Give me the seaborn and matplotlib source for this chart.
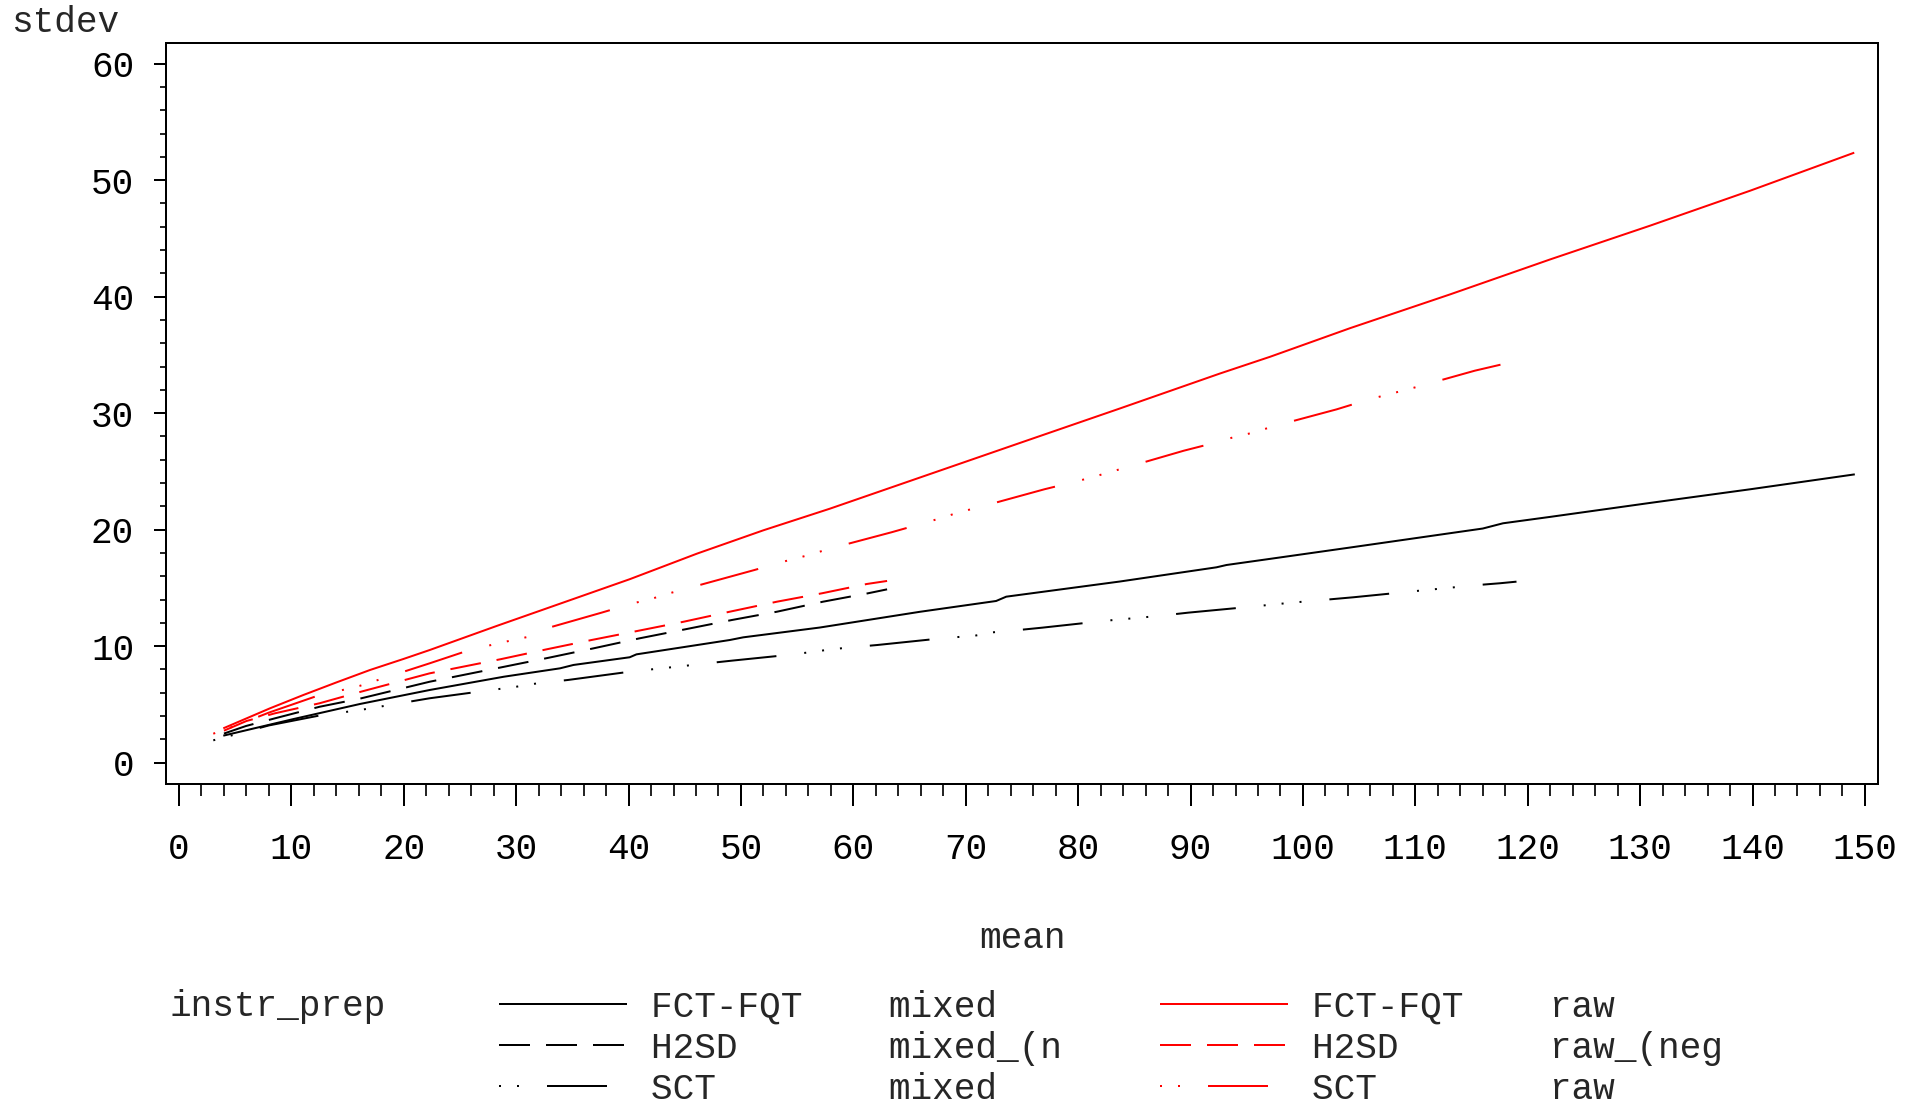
import matplotlib
matplotlib.use("Agg")
import matplotlib.pyplot as plt
from matplotlib.ticker import MultipleLocator
import numpy as np
import pandas as pd
import seaborn as sns

# ---------------- data ----------------
fct_mixed_x = [3.94, 10.2, 16.1, 22.3, 28.9, 33.9, 35.1, 40.1, 40.7, 49.0, 50.2, 57.0, 65.9,
               72.7, 73.6, 83.7, 92.3, 93.2, 97.1, 104.2, 113.1, 116.0, 117.8, 122.0, 130.9, 139.8, 149.1]
fct_mixed_y = [2.32, 3.75, 5.04, 6.24, 7.38, 8.10, 8.39, 9.05, 9.30, 10.53, 10.76, 11.60, 12.95,
               13.88, 14.25, 15.55, 16.77, 16.97, 17.50, 18.47, 19.70, 20.10, 20.55, 21.10, 22.30, 23.47, 24.75]

h2sd_mixed_x = [4.0, 5.96, 8.54, 12.5, 16.1, 22.3, 28.7, 32.9, 36.9, 41.0, 45.2, 49.2, 53.2, 57.3, 61.3, 63.0]
h2sd_mixed_y = [2.50, 3.15, 3.81, 4.80, 5.50, 6.95, 8.19, 9.01, 9.82, 10.68, 11.48, 12.25, 12.96, 13.82, 14.54, 14.88]

sct_mixed_x = [3.05, 8.0, 12.5, 16.1, 22.3, 27.1, 30.0, 31.8, 34.6, 40.1, 42.9, 44.9, 46.4, 49.2, 54.7,
               57.8, 59.4, 62.1, 67.9, 70.8, 72.4, 74.1, 76.8, 82.5, 85.5, 87.1, 89.8, 95.4,
               98.4, 100.0, 101.8, 104.5, 110.1, 113.1, 114.9, 117.5, 119.0]
sct_mixed_y = [1.92, 3.20, 4.05, 4.52, 5.53, 6.15, 6.52, 6.80, 7.10, 7.81, 8.10, 8.30, 8.47, 8.76, 9.30,
               9.70, 9.87, 10.10, 10.68, 10.90, 11.19, 11.33, 11.59, 12.19, 12.45, 12.59, 12.88, 13.39,
               13.68, 13.82, 13.97, 14.20, 14.74, 15.02, 15.20, 15.40, 15.54]

fct_raw_x = [3.94, 8.1, 11.06, 14.03, 17.0, 19.96, 22.3, 28.3, 34.2, 40.1, 46.1, 52.0, 57.9, 65.9,
             74.8, 83.7, 92.6, 97.1, 104.2, 113.1, 122.0, 130.9, 139.8, 149.05]
fct_raw_y = [2.95, 4.67, 5.81, 6.90, 7.96, 8.90, 9.67, 11.75, 13.75, 15.75, 17.95, 19.95, 21.80, 24.47,
             27.44, 30.40, 33.40, 34.85, 37.30, 40.20, 43.20, 46.10, 49.10, 52.36]

h2sd_raw_x = [4.0, 6.0, 8.54, 12.5, 16.1, 22.3, 28.6, 32.7, 36.7, 40.9, 44.9, 49.0, 53.2, 57.2, 61.2, 63.0]
h2sd_raw_y = [2.75, 3.58, 4.24, 5.10, 6.07, 7.67, 8.88, 9.73, 10.53, 11.33, 12.10, 12.96, 13.82, 14.54, 15.34, 15.60]

sct_raw_x = [3.05, 4.54, 8.0, 12.1, 16.1, 22.3, 25.6, 28.4, 31.0, 32.4, 37.6, 40.4, 42.0, 43.4, 46.1, 51.2,
             54.1, 55.7, 58.2, 63.4, 66.4, 67.8, 69.3, 71.9, 77.0, 80.0, 81.6, 84.0, 89.4,
             92.2, 93.7, 95.3, 97.7, 103.0, 105.9, 107.4, 110.0, 115.3, 118.1]
sct_raw_y = [2.49, 3.00, 4.30, 5.67, 6.60, 8.53, 9.59, 10.25, 10.79, 11.45, 12.88, 13.68, 14.05, 14.48, 15.19, 16.54,
             17.34, 17.74, 18.45, 19.78, 20.60, 21.00, 21.46, 22.12, 23.47, 24.18, 24.60, 25.27, 26.78,
             27.47, 27.90, 28.27, 28.96, 30.33, 31.19, 31.56, 32.22, 33.65, 34.28]

instruments = ["FCT-FQT", "H2SD", "SCT", "FCT-FQT", "H2SD", "SCT"]
preps = ["mixed", "mixed_(n", "mixed", "raw", "raw_(neg", "raw"]
series_x = [fct_mixed_x, h2sd_mixed_x, sct_mixed_x, fct_raw_x, h2sd_raw_x, sct_raw_x]
series_y = [fct_mixed_y, h2sd_mixed_y, sct_mixed_y, fct_raw_y, h2sd_raw_y, sct_raw_y]

# ---------------- styling ----------------
W, H = 1907, 1108
FONT = ["Liberation Mono", "DejaVu Sans Mono"]
FS = 26
LW = 1.44  # ~2 px at 100 dpi

sns.set_theme(style="white")
plt.rcParams["font.family"] = FONT
plt.rcParams["axes.edgecolor"] = "black"
plt.rcParams["axes.linewidth"] = LW

colors = {"mixed": "black", "mixed_(n": "black", "raw": "#ff0000", "raw_(neg": "#ff0000"}
styles = {
    "FCT-FQT": "-",
    "H2SD": (0, (15.5, 8.0)),
    "SCT": (53, (30, 14, 1, 8, 1, 8, 1, 14)),
}

fig = plt.figure(figsize=(W / 100, H / 100), dpi=100)
fig.patch.set_facecolor("white")
left, right, top, bottom = 166, 1878.3, 42.7, 784.3
ax = fig.add_axes([left / W, 1 - bottom / H, (right - left) / W, (bottom - top) / H])
ax.set_facecolor("white")

handles = []
labels = []
for ins, prep, xs, ys in zip(instruments, preps, series_x, series_y):
    df = pd.DataFrame({"mean": xs, "stdev": ys})
    sns.lineplot(data=df, x="mean", y="stdev", ax=ax, color=colors[prep],
                 lw=LW, estimator=None, sort=False, legend=False)
    line = ax.lines[-1]
    line.set_linestyle(styles[ins])
    line.set_dash_capstyle("butt")
    line.set_solid_capstyle("butt")
    handles.append(line)
    labels.append(ins.ljust(11) + prep)

ax.set_xlim(-1.157, 151.19)
ax.set_ylim(-1.854, 61.8)
ax.xaxis.set_major_locator(MultipleLocator(10))
ax.xaxis.set_minor_locator(MultipleLocator(2))
ax.yaxis.set_major_locator(MultipleLocator(10))
ax.yaxis.set_minor_locator(MultipleLocator(2))

ax.tick_params(axis="x", which="major", bottom=True, direction="out", length=15.6, width=LW,
               pad=19, labelsize=FS, colors="black")
ax.tick_params(axis="x", which="minor", bottom=True, direction="out", length=8.9, width=LW)
ax.tick_params(axis="y", which="major", left=True, direction="out", length=8.9, width=LW,
               pad=14, labelsize=FS, colors="black")
ax.tick_params(axis="y", which="minor", left=True, direction="out", length=4.5, width=LW)
for sp in ax.spines.values():
    sp.set_visible(True)
    sp.set_color("black")
    sp.set_linewidth(LW)
ax.grid(False)

ax.set_xlabel("mean", fontsize=FS)
ax.xaxis.set_label_coords(0.5, (bottom - 939) / (bottom - top))
ax.xaxis.label.set_va("center")
ax.set_ylabel("stdev", fontsize=FS, rotation=0, ha="left", va="center")
ax.yaxis.set_label_coords((11 - left) / (right - left), (bottom - 23) / (bottom - top))

fs_px = FS * 100 / 72
leg = ax.legend(handles, labels, ncol=2, loc="upper left",
                bbox_to_anchor=(498.6 / W, 1 - 990 / H), bbox_transform=fig.transFigure,
                frameon=False, fontsize=FS, handlelength=128 / fs_px,
                handletextpad=(650.7 - 626.6) / fs_px, columnspacing=2.73,
                labelspacing=0.16, borderpad=0, borderaxespad=0)
fig.text(170 / W, 1 - 1007 / H, "instr_prep", fontsize=FS, va="center", ha="left")

fig.savefig("out.png", dpi=100, facecolor="white")
